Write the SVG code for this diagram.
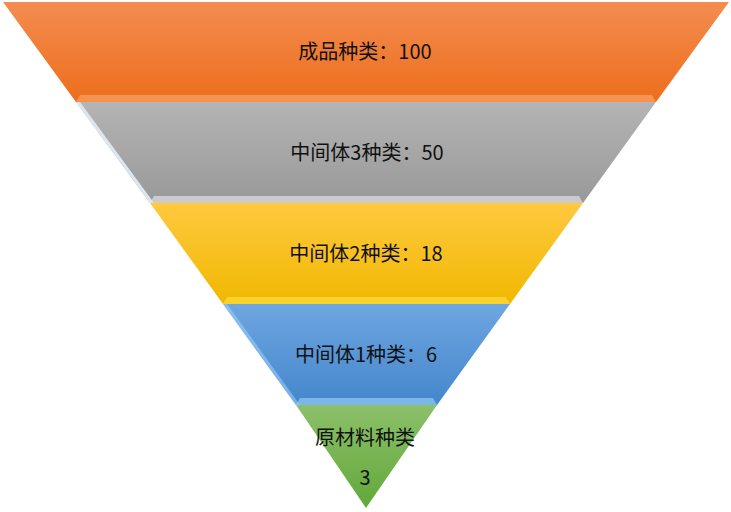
<svg xmlns="http://www.w3.org/2000/svg" width="731" height="512" viewBox="0 0 731 512">
<style>
text{font-family:"Noto Sans CJK SC","Liberation Sans",sans-serif;font-size:20px;fill:#111;text-anchor:middle}
.b{opacity:0.55}
</style>
<defs>
<linearGradient id="o" x1="0" y1="0" x2="0" y2="1"><stop offset="0" stop-color="#f48c50"/><stop offset="1" stop-color="#ec6e1c"/></linearGradient>
<linearGradient id="g" x1="0" y1="0" x2="0" y2="1"><stop offset="0" stop-color="#b4b4b4"/><stop offset="1" stop-color="#999"/></linearGradient>
<linearGradient id="y" x1="0" y1="0" x2="0" y2="1"><stop offset="0" stop-color="#ffc940"/><stop offset="1" stop-color="#f0b800"/></linearGradient>
<linearGradient id="bl" x1="0" y1="0" x2="0" y2="1"><stop offset="0" stop-color="#6ea6e0"/><stop offset="1" stop-color="#4486cc"/></linearGradient>
<linearGradient id="gr" x1="0" y1="0" x2="0" y2="1"><stop offset="0" stop-color="#8cc06a"/><stop offset="1" stop-color="#62a83a"/></linearGradient>
</defs>
<g id="band1"><polygon points="3,2 729,2 656,102 76,102" fill="url(#o)"/><polygon points="80,95 652,95 656,102 76,102" fill="#ffb07a" class="b"/><text x="365" y="59">成品种类：100</text></g>
<g id="band2"><polygon points="76,102 656,102 583,203 150,203" fill="url(#g)"/><polygon points="154,196 579,196 583,203 150,203" fill="#f4f4f4" class="b"/><polygon points="76,102 80,102 154,203 150,203" fill="#dde6ee"/><text x="367" y="160">中间体3种类：50</text></g>
<g id="band3"><polygon points="150,203 583,203 510,304 223,304" fill="url(#y)"/><polygon points="227,297 506,297 510,304 223,304" fill="#ffe850" class="b"/><text x="366" y="261">中间体2种类：18</text></g>
<g id="band4"><polygon points="223,304 510,304 437,405 296,405" fill="url(#bl)"/><polygon points="300,398 433,398 437,405 296,405" fill="#a8dcff" class="b"/><polygon points="223,304 227,304 300,405 296,405" fill="#9ed4ff" class="b"/><text x="366" y="362">中间体1种类：6</text></g>
<g id="band5"><polygon points="296,405 437,405 366,508" fill="url(#gr)"/><text x="365" y="445">原材料种类</text><text x="365" y="485">3</text></g>
</svg>
